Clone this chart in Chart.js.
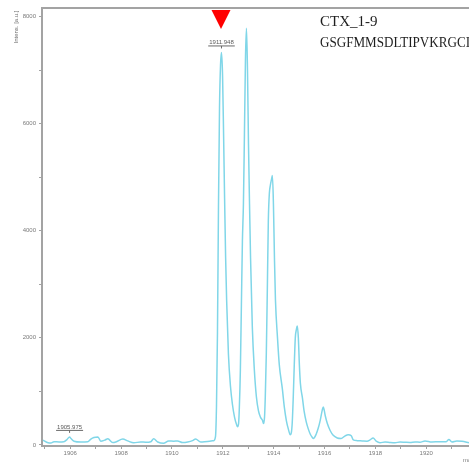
<!DOCTYPE html>
<html>
<head>
<meta charset="utf-8">
<script src="https://cdn.jsdelivr.net/npm/chart.js@4.4.1/dist/chart.umd.min.js"></script>
<style>
  html, body { margin: 0; padding: 0; background: #fff; overflow: hidden; }
  #wrap { width: 469px; height: 466px; }
</style>
</head>
<body>
<div id="wrap"><canvas id="c" width="469" height="466"></canvas></div>
<script>
// MALDI spectrum of CTX_1-9: isotope envelope around m/z 1912
const mz = [
  1904.93, 1905.13, 1905.24, 1905.36, 1905.56, 1905.75, 1905.87, 1905.975, 1906.03, 1906.15,
  1906.42, 1906.69, 1906.81, 1906.93, 1907.09, 1907.20, 1907.36, 1907.48, 1907.67, 1907.79,
  1908.07, 1908.26, 1908.50, 1908.77, 1908.97, 1909.17, 1909.28, 1909.44, 1909.67, 1909.87,
  1910.07, 1910.22, 1910.42, 1910.62, 1910.81, 1910.93, 1911.13, 1911.40, 1911.64, 1911.71,
  1911.75, 1911.79, 1911.83, 1911.87, 1911.91, 1911.948, 1911.99, 1912.03, 1912.07, 1912.11,
  1912.15, 1912.22, 1912.30, 1912.38, 1912.46, 1912.54, 1912.58, 1912.62, 1912.65, 1912.69,
  1912.73, 1912.77, 1912.81, 1912.85, 1912.89, 1912.93, 1912.97, 1913.01, 1913.05, 1913.09,
  1913.16, 1913.24, 1913.32, 1913.40, 1913.48, 1913.56, 1913.60, 1913.64, 1913.67, 1913.71,
  1913.75, 1913.79, 1913.83, 1913.87, 1913.91, 1913.95, 1913.99, 1914.03, 1914.07, 1914.15,
  1914.22, 1914.34, 1914.42, 1914.50, 1914.58, 1914.65, 1914.69, 1914.73, 1914.77, 1914.81,
  1914.85, 1914.89, 1914.93, 1914.97, 1915.01, 1915.05, 1915.13, 1915.20, 1915.28, 1915.36,
  1915.44, 1915.52, 1915.56, 1915.67, 1915.75, 1915.83, 1915.91, 1915.95, 1915.99, 1916.03,
  1916.11, 1916.22, 1916.34, 1916.50, 1916.65, 1916.81, 1916.93, 1917.05, 1917.13, 1917.28,
  1917.48, 1917.67, 1917.79, 1917.91, 1918.03, 1918.18, 1918.38, 1918.58, 1918.77, 1918.97,
  1919.16, 1919.36, 1919.56, 1919.75, 1919.95, 1920.22, 1920.54, 1920.77, 1920.89, 1921.01,
  1921.20, 1921.40, 1921.68
];
const intensity = [
  90, 40, 35, 60, 55, 60, 100, 150, 120, 70,
  55, 60, 110, 140, 150, 70, 90, 115, 45, 55,
  110, 75, 40, 55, 50, 60, 115, 55, 30, 75,
  70, 75, 45, 55, 80, 110, 55, 65, 80, 150,
  700, 2100, 4500, 6300, 7100, 7330, 6900, 5800, 4600, 3500,
  2700, 1700, 1100, 750, 520, 380, 340, 400, 700, 1400,
  2600, 3800, 4500, 5800, 7200, 7780, 7000, 5600, 4500, 3500,
  2200, 1400, 900, 640, 520, 460, 400, 520, 900, 1700,
  2900, 4200, 4700, 4850, 4950, 5030, 4500, 3500, 2700, 2000,
  1500, 1050, 700, 450, 290, 190, 220, 420, 900, 1500,
  2000, 2150, 2220, 2000, 1500, 1150, 880, 620, 430, 300,
  200, 140, 120, 200, 310, 460, 650, 710, 640, 540,
  400, 270, 180, 130, 120, 170, 190, 170, 95, 80,
  75, 70, 95, 130, 70, 40, 55, 45, 40, 55,
  50, 45, 55, 50, 75, 55, 60, 60, 100, 55,
  75, 70, 40
];

// Annotated peaks
const peakLabels = ["1905.975", "1911.948"];
const peakMz = [1905.975, 1911.948];
const peakIntensity = [150, 7330];
const markerMz = 1911.948;

// Tick positions: every step gets a mark, only labelled values get text
const xTicks = [1905, 1906, 1907, 1908, 1909, 1910, 1911, 1912, 1913, 1914, 1915, 1916, 1917, 1918, 1919, 1920, 1921];
const xTickLabels = ["1906", "1908", "1910", "1912", "1914", "1916", "1918", "1920"];
const yTicks = [0, 1000, 2000, 3000, 4000, 5000, 6000, 7000, 8000];
const yTickLabels = ["0", "2000", "4000", "6000", "8000"];

const titleLines = ["CTX_1-9", "GSGFMMSDLTIPVKRGCI"];
const xRange = [1904.89, 1921.68];
const yRange = [-20, 8160];

const axisGray = '#a3a3a3';
const labelGray = '#7a7a7a';

const decorations = {
  id: 'decorations',
  afterDraw(chart) {
    const { ctx, chartArea, scales } = chart;
    const xs = scales.x, ys = scales.y;
    ctx.save();

    // top frame line
    ctx.strokeStyle = axisGray;
    ctx.lineWidth = 2;
    ctx.beginPath();
    ctx.moveTo(chartArea.left - 1, chartArea.top);
    ctx.lineTo(chartArea.right, chartArea.top);
    ctx.stroke();

    // y axis title, rotated
    ctx.save();
    ctx.translate(16, 27);
    ctx.rotate(-Math.PI / 2);
    ctx.fillStyle = '#6f6f6f';
    ctx.font = '6px "Liberation Sans"';
    ctx.textAlign = 'center';
    ctx.textBaseline = 'middle';
    ctx.fillText('Intens. [a.u.]', 0, 0);
    ctx.restore();

    // x axis title (runs off the right edge)
    ctx.fillStyle = labelGray;
    ctx.font = '6px "Liberation Sans"';
    ctx.textAlign = 'left';
    ctx.textBaseline = 'middle';
    ctx.fillText('m/z', 463, 460);

    // peak labels, underlined
    ctx.font = '6px "Liberation Sans"';
    ctx.textAlign = 'center';
    ctx.textBaseline = 'alphabetic';
    for (let i = 0; i < peakLabels.length; i++) {
      const px = xs.getPixelForValue(peakMz[i]);
      const py = ys.getPixelForValue(peakIntensity[i]);
      ctx.fillStyle = '#5a5a5a';
      ctx.fillText(peakLabels[i], px, py - 8);
      const w = ctx.measureText(peakLabels[i]).width;
      ctx.strokeStyle = '#6a6a6a';
      ctx.lineWidth = 1;
      ctx.beginPath();
      ctx.moveTo(px - w / 2 - 1, py - 6.5);
      ctx.lineTo(px + w / 2 + 1, py - 6.5);
      ctx.stroke();
      ctx.beginPath();
      ctx.moveTo(px, py - 6.5);
      ctx.lineTo(px, py - 4);
      ctx.stroke();
    }

    // red marker above the monoisotopic peak
    const mx = xs.getPixelForValue(markerMz);
    ctx.fillStyle = '#ff0000';
    ctx.beginPath();
    ctx.moveTo(mx - 10, chartArea.top + 2);
    ctx.lineTo(mx + 9, chartArea.top + 2);
    ctx.lineTo(mx - 0.5, chartArea.top + 21);
    ctx.closePath();
    ctx.fill();

    // sample name and sequence
    ctx.fillStyle = '#1e1e1e';
    ctx.textAlign = 'left';
    ctx.textBaseline = 'alphabetic';
    ctx.font = '15px "Liberation Serif"';
    ctx.fillText(titleLines[0], 320, 25.5);
    ctx.font = '14px "Liberation Serif"';
    ctx.fillText(titleLines[1], 320, 46.5, 150);

    ctx.restore();
  }
};

new Chart(document.getElementById('c'), {
  type: 'line',
  data: {
    datasets: [{
      data: mz.map((m, i) => ({ x: m, y: intensity[i] })),
      borderColor: '#80d6e8',
      borderWidth: 1.5,
      pointRadius: 0,
      fill: false,
      cubicInterpolationMode: 'monotone'
    }]
  },
  options: {
    responsive: false,
    devicePixelRatio: 1,
    animation: false,
    events: [],
    layout: { padding: { top: 8, right: 0, left: 0, bottom: 0 } },
    plugins: { legend: { display: false }, tooltip: { enabled: false } },
    scales: {
      x: {
        type: 'linear',
        min: xRange[0],
        max: xRange[1],
        afterBuildTicks(s) { s.ticks = xTicks.map(v => ({ value: v })); },
        afterFit(s) { s.height = 20; },
        border: { color: axisGray, width: 2 },
        grid: { drawOnChartArea: false, tickLength: 3, color: axisGray, lineWidth: 1 },
        ticks: {
          autoSkip: false,
          maxRotation: 0,
          padding: 1,
          color: labelGray,
          font: { family: '"Liberation Sans"', size: 6 },
          callback: v => (xTickLabels.includes(String(v)) ? String(v) : '')
        }
      },
      y: {
        min: yRange[0],
        max: yRange[1],
        afterBuildTicks(s) { s.ticks = yTicks.map(v => ({ value: v })); },
        afterFit(s) { s.width = 42; },
        border: { color: axisGray, width: 2 },
        grid: { drawOnChartArea: false, tickLength: 3, color: axisGray, lineWidth: 1 },
        ticks: {
          autoSkip: false,
          padding: 3,
          color: labelGray,
          font: { family: '"Liberation Sans"', size: 6 },
          callback: v => (yTickLabels.includes(String(v)) ? String(v) : '')
        }
      }
    }
  },
  plugins: [decorations]
});
</script>
</body>
</html>
